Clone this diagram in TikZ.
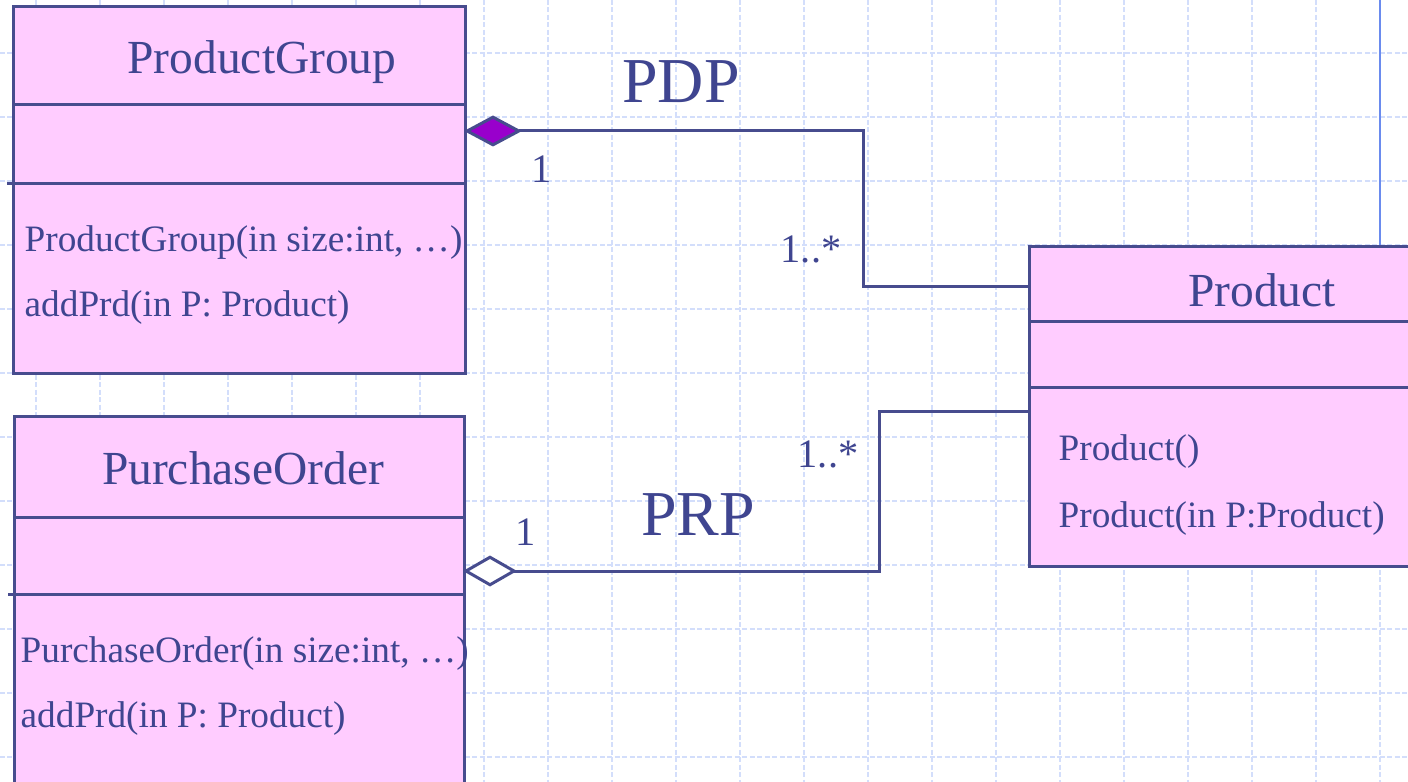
\documentclass[tikz,border=0pt]{standalone}
\usepackage{fontspec}
\setmainfont{Liberation Serif}
\usetikzlibrary{arrows.meta}
\definecolor{umlpink}{HTML}{FFCCFF}
\definecolor{umlborder}{HTML}{474C8E}
\definecolor{umltext}{HTML}{3F4590}
\definecolor{gridblue}{HTML}{D3DEFB}
\definecolor{sidebar}{HTML}{6A8BEE}
\definecolor{compfill}{HTML}{9900CC}

\begin{document}
\begin{tikzpicture}[x=0.1mm, y=-0.1mm,
    classbox/.style={draw=umlborder, fill=umlpink, line width=0.3mm,
      inner sep=0pt, anchor=north west},
    classname/.style={text=umltext, font=\fontsize{13.5}{16}\selectfont,
      inner sep=0pt, anchor=base},
    method/.style={text=umltext, font=\fontsize{10.6}{13}\selectfont,
      inner sep=0pt, anchor=base west},
    mult/.style={text=umltext, font=\fontsize{11.5}{14}\selectfont,
      inner sep=0pt},
    assocname/.style={text=umltext, font=\fontsize{18.2}{22}\selectfont,
      inner sep=0pt, anchor=base},
    divider/.style={draw=umlborder, line width=0.3mm},
    link/.style={draw=umlborder, line width=0.3mm},
    gridline/.style={draw=gridblue, line width=0.25mm,
      dash pattern=on 0.5mm off 0.25mm}
  ]
  \clip (0,0) rectangle (1408,782);
  \fill[white] (0,0) rectangle (1408,782);
  % background grid
  \foreach \gx in {36,100,...,1400}
    \draw[gridline] (\gx,0) -- (\gx,782);
  \foreach \gy in {53,117,...,782}
    \draw[gridline] (0,\gy) -- (1408,\gy);

  % classes
  \node[classbox, minimum width=45.2mm, minimum height=36.7mm] (pg) at (12,5) {};
  \node[classbox, minimum width=45mm, minimum height=40mm] (po) at (13,415) {};
  \node[classbox, minimum width=42mm, minimum height=32mm] (prd) at (1028,245) {};

  \draw[divider] ([yshift=-10mm]pg.north west) -- ([yshift=-10mm]pg.north east);
  \draw[divider] ([xshift=-0.5mm, yshift=-17.9mm]pg.north west)
    -- ([yshift=-17.9mm]pg.north east);
  \draw[divider] ([yshift=-10.2mm]po.north west) -- ([yshift=-10.2mm]po.north east);
  \draw[divider] ([xshift=-0.5mm, yshift=-17.9mm]po.north west)
    -- ([yshift=-17.9mm]po.north east);
  \draw[divider] ([yshift=-7.7mm]prd.north west) -- ([yshift=-7.7mm]prd.north east);
  \draw[divider] ([yshift=-14.3mm]prd.north west) -- ([yshift=-14.3mm]prd.north east);

  \node[classname] (pgname) at (262,74) {ProductGroup};
  \node[method] (pgctor) at (24,252) {ProductGroup(in size:int, …)};
  \node[method] (pgadd) at (24,317) {addPrd(in P: Product)};

  \node[classname] (poname) at (243,484) {PurchaseOrder};
  \node[method] (poctor) at (20,662) {PurchaseOrder(in size:int, …)};
  \node[method] (poadd) at (20,727) {addPrd(in P: Product)};

  \node[classname] (prdname) at (1262,307) {Product};
  \node[method] (prdctor) at (1058,460) {Product()};
  \node[method] (prdcopy) at (1058,527) {Product(in P:Product)};

  % line going up from Product
  \coordinate (bartop) at (1380,0);
  \draw[sidebar, line width=0.25mm] (bartop) -- (bartop |- prd.north);

  % associations
  \draw[link, {Diamond[length=5.8mm, width=3.1mm, fill=compfill]}-]
    ([xshift=-0.3mm, yshift=-12.6mm]pg.north east) -- ++(399,0)
    |- ([yshift=-4.2mm]prd.north west);
  \draw[link, {Diamond[length=5.4mm, width=3.1mm, fill=white]}-]
    ([xshift=-0.3mm, yshift=-15.6mm]po.north east) -- ++(416,0)
    |- ([yshift=-16.7mm]prd.north west);

  \node[assocname] (pdp) at (681,103) {PDP};
  \node[mult, anchor=base] (pdpone) at (542,183) {1};
  \node[mult, anchor=base west] (pdpmany) at (780,263) {1..*};

  \node[assocname] (prp) at (698,535) {PRP};
  \node[mult, anchor=base] (prpone) at (526,545) {1};
  \node[mult, anchor=base west] (prpmany) at (797,467) {1..*};
\end{tikzpicture}
\end{document}
